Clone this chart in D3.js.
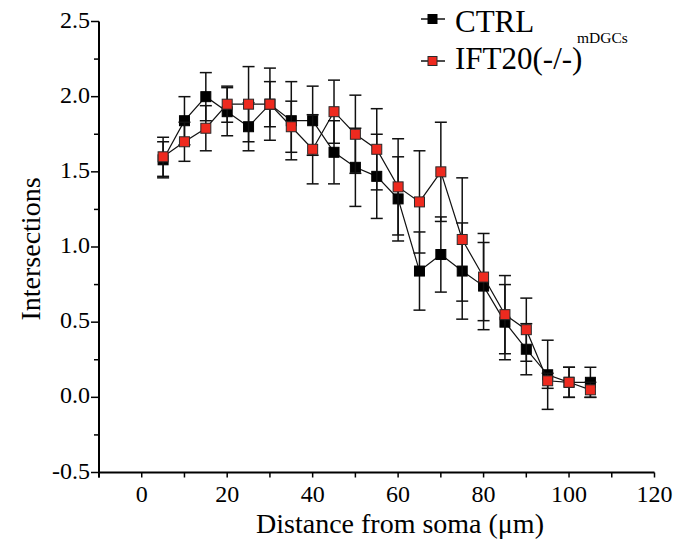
<!DOCTYPE html>
<html>
<head>
<meta charset="utf-8">
<script src="https://cdn.jsdelivr.net/npm/d3@7"></script>
<style>
  body { margin: 0; background: #fff; }
  svg text { font-family: "Liberation Serif", "Times New Roman", serif; fill: #000; }
</style>
</head>
<body>
<svg id="chart" width="685" height="550"></svg>
<script>
// Distance from soma (um)
const distances = [5, 10, 15, 20, 25, 30, 35, 40, 45, 50, 55, 60, 65, 70, 75, 80, 85, 90, 95, 100, 105];

// CTRL mean and SEM
const ctrlMean = [1.58, 1.84, 2.00, 1.90, 1.80, 1.95, 1.84, 1.84, 1.63, 1.53, 1.47, 1.32, 0.84, 0.95, 0.84, 0.74, 0.50, 0.32, 0.15, 0.10, 0.10];
const ctrlErr  = [0.12, 0.16, 0.16, 0.16, 0.16, 0.15, 0.26, 0.23, 0.21, 0.26, 0.28, 0.28, 0.26, 0.25, 0.32, 0.29, 0.25, 0.17, 0.23, 0.10, 0.10];

// IFT20(-/-) mean and SEM
const koMean = [1.60, 1.70, 1.79, 1.95, 1.95, 1.95, 1.80, 1.65, 1.90, 1.75, 1.65, 1.40, 1.30, 1.50, 1.05, 0.80, 0.55, 0.45, 0.11, 0.10, 0.05];
const koErr  = [0.13, 0.13, 0.15, 0.12, 0.25, 0.24, 0.17, 0.23, 0.21, 0.26, 0.27, 0.32, 0.34, 0.33, 0.41, 0.29, 0.26, 0.21, 0.05, 0.10, 0.05];

// Axis ticks
const xMajor = [0, 20, 40, 60, 80, 100, 120];
const xMinor = [-10, 10, 30, 50, 70, 90, 110];
const yMajor = [-0.5, 0.0, 0.5, 1.0, 1.5, 2.0, 2.5];
const yMinor = [-0.25, 0.25, 0.75, 1.25, 1.75, 2.25];

const svg = d3.select('#chart');

const xScale = d3.scaleLinear().domain([-10, 120]).range([99, 654.5]);
const yScale = d3.scaleLinear().domain([-0.5, 2.5]).range([472.5, 21.5]);

// Build series
const series = [
  { name: 'CTRL', fill: '#000000', stroke: '#000000',
    points: distances.map((d, i) => ({ x: d, y: ctrlMean[i], e: ctrlErr[i] })) },
  { name: 'IFT20', fill: '#ee2a1f', stroke: '#2a2a2a',
    points: distances.map((d, i) => ({ x: d, y: koMean[i], e: koErr[i] })) }
];

// Axes
const xAxis = svg.append('g').attr('transform', `translate(0, ${yScale(-0.5)})`);
xAxis.append('line')
  .attr('x1', xScale(-10)).attr('x2', xScale(120))
  .attr('stroke', '#000').attr('stroke-width', 2);
xAxis.selectAll('.tk')
  .data(xMajor.concat(xMinor))
  .join('line')
  .attr('x1', d => xScale(d)).attr('x2', d => xScale(d))
  .attr('y1', 0).attr('y2', 5)
  .attr('stroke', '#000').attr('stroke-width', 1.5);
xAxis.selectAll('text')
  .data(xMajor)
  .join('text')
  .attr('x', d => xScale(d))
  .attr('y', 29)
  .attr('text-anchor', 'middle')
  .attr('font-size', 24)
  .text(d => d);

const yAxis = svg.append('g').attr('transform', `translate(${xScale(-10)}, 0)`);
yAxis.append('line')
  .attr('y1', yScale(-0.5) + 5).attr('y2', yScale(2.5))
  .attr('stroke', '#000').attr('stroke-width', 2);
yAxis.selectAll('.major')
  .data(yMajor)
  .join('line')
  .attr('class', 'major')
  .attr('x1', -8).attr('x2', 0)
  .attr('y1', d => yScale(d)).attr('y2', d => yScale(d))
  .attr('stroke', '#000').attr('stroke-width', 1.5);
yAxis.selectAll('.minor')
  .data(yMinor)
  .join('line')
  .attr('class', 'minor')
  .attr('x1', -5).attr('x2', 0)
  .attr('y1', d => yScale(d)).attr('y2', d => yScale(d))
  .attr('stroke', '#000').attr('stroke-width', 1.5);
yAxis.selectAll('text')
  .data(yMajor)
  .join('text')
  .attr('x', -9)
  .attr('y', d => yScale(d) + 6)
  .attr('text-anchor', 'end')
  .attr('font-size', 24)
  .text(d => d3.format('.1f')(d).replace('\u2212', '-'));

// Axis titles
svg.append('text')
  .attr('x', 400).attr('y', 533)
  .attr('text-anchor', 'middle')
  .attr('font-size', 28)
  .text('Distance from soma (\u03bcm)');

svg.append('text')
  .attr('transform', `translate(40, 249) rotate(-90)`)
  .attr('text-anchor', 'middle')
  .attr('font-size', 28)
  .text('Intersections');

// Lines, error bars, markers
const lineGenerator = d3.line().x(d => xScale(d.x)).y(d => yScale(d.y));

const groups = svg.selectAll('.series')
  .data(series)
  .join('g')
  .attr('class', 'series');

groups.append('path')
  .attr('d', d => lineGenerator(d.points))
  .attr('fill', 'none')
  .attr('stroke', '#111')
  .attr('stroke-width', 1.2);

const bars = groups.selectAll('.err')
  .data(d => d.points)
  .join('g')
  .attr('class', 'err');
bars.append('line')
  .attr('x1', d => xScale(d.x)).attr('x2', d => xScale(d.x))
  .attr('y1', d => yScale(d.y + d.e)).attr('y2', d => yScale(d.y - d.e))
  .attr('stroke', '#111').attr('stroke-width', 1.5);
bars.selectAll('.cap')
  .data(d => [{ x: d.x, v: d.y + d.e }, { x: d.x, v: d.y - d.e }])
  .join('line')
  .attr('class', 'cap')
  .attr('x1', d => xScale(d.x) - 6).attr('x2', d => xScale(d.x) + 6)
  .attr('y1', d => yScale(d.v)).attr('y2', d => yScale(d.v))
  .attr('stroke', '#111').attr('stroke-width', 1.5);

groups.each(function(s) {
  d3.select(this).selectAll('.mk')
    .data(s.points)
    .join('rect')
    .attr('class', 'mk')
    .attr('x', d => xScale(d.x) - 5)
    .attr('y', d => yScale(d.y) - 5)
    .attr('width', 10).attr('height', 10)
    .attr('fill', s.fill)
    .attr('stroke', s.stroke)
    .attr('stroke-width', 1);
});

// Legend
const legend = svg.append('g');
const legendRows = [
  { label: 'CTRL', fill: '#000000', stroke: '#000000', y: 19, ty: 32 },
  { label: 'IFT20(-/-)', fill: '#ee2a1f', stroke: '#2a2a2a', y: 61, ty: 69 }
];
legendRows.forEach(r => {
  legend.append('line')
    .attr('x1', 421).attr('x2', 445)
    .attr('y1', r.y).attr('y2', r.y)
    .attr('stroke', '#111').attr('stroke-width', 1.5);
  legend.append('rect')
    .attr('x', 428).attr('y', r.y - 4.5)
    .attr('width', 9).attr('height', 9)
    .attr('fill', r.fill).attr('stroke', r.stroke).attr('stroke-width', 1);
  legend.append('text')
    .attr('x', 455).attr('y', r.ty)
    .attr('font-size', 31)
    .text(r.label);
});
legend.append('text')
  .attr('x', 577).attr('y', 43)
  .attr('font-size', 15.5)
  .text('mDGCs');
</script>
</body>
</html>
